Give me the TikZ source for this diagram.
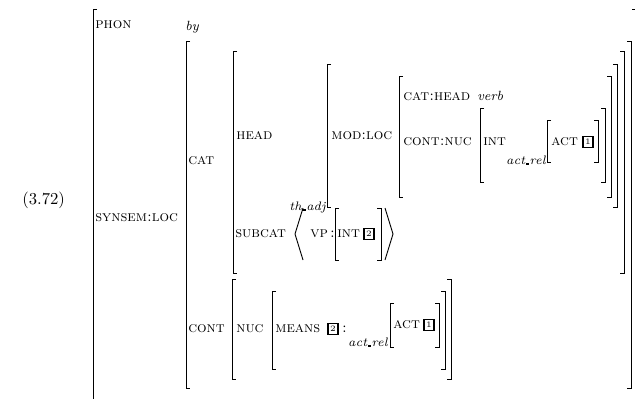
\documentclass[tikz,border=0pt]{standalone}
\newcommand{\lowbar}{\kern0.04em\rule[-0.25ex]{0.3em}{0.35ex}\kern0.02em}
\begin{document}
\begin{tikzpicture}[x=0.6pt,y=-0.6pt,
    feat/.style={anchor=west,inner sep=0pt,font=\small\scshape},
    sort/.style={anchor=base west,inner sep=0pt,font=\footnotesize\itshape},
    tag/.style={draw,line width=0.8pt,inner sep=0.5pt,minimum width=6pt,
      minimum height=6.3pt,font=\tiny},
    brack/.style={line width=0.55pt}]
  \useasboundingbox (0,0) rectangle (635,398);

    \node[anchor=west,inner sep=0pt] (num) at (22,200) {(3.72)};

    \draw[brack] (97,9)--(93,9)--(93,402)--(97,402);
    \draw[brack] (632,9)--(636,9)--(636,402)--(632,402);
    \node[feat] (phon) at (95,25) {phon};
    \node[sort] (by) at (185,30) {by};
    \node[feat] (synsem) at (95,218) {synsem:loc};

    \draw[brack] (190,41)--(186,41)--(186,388)--(190,388);
    \draw[brack] (627,41)--(631,41)--(631,388)--(627,388);
    \node[feat] (cat) at (188,161) {cat};
    \node[feat] (cont) at (188,329) {cont};

    \draw[brack] (237,51)--(233,51)--(233,273)--(237,273);
    \draw[brack] (620,51)--(624,51)--(624,273)--(620,273);
    \node[feat] (head) at (236,136) {head};
    \node[feat] (subcat) at (235,234) {subcat};

    \draw[brack] (331,64)--(327,64)--(327,207)--(331,207);
    \draw[brack] (613,64)--(617,64)--(617,207)--(613,207);
    \node[sort,anchor=base east,font=\fontsize{7.4}{9}\selectfont\itshape]
    (thadj) at (326,210) {th\lowbar adj};
    \node[feat] (modloc) at (331,136) {mod:loc};

    \draw[brack] (403,76)--(399,76)--(399,197)--(403,197);
    \draw[brack] (607,76)--(611,76)--(611,197)--(607,197);
    \node[feat] (cathead) at (403,97) {cat:head};
    \node[sort] (verb) at (477,100) {verb};
    \node[feat] (contnuc) at (403,142) {cont:nuc};

    \draw[brack] (484,108)--(480,108)--(480,182)--(484,182);
    \draw[brack] (601,108)--(605,108)--(605,182)--(601,182);
    \node[feat] (intA) at (483,142) {int};
    \node[sort,anchor=base east,font=\fontsize{7.4}{9}\selectfont\itshape]
    (relA) at (546,164) {act\lowbar rel};

    \draw[brack] (551,120)--(547,120)--(547,162)--(551,162);
    \draw[brack] (594,120)--(598,120)--(598,162)--(594,162);
    \node[feat] (actA) at (551,142) {act};
    \node[tag] (oneA) at (588,142) {1};

    \draw[brack] (303,208)--(295,234)--(303,260);
    \node[feat] (vp) at (310,234) {vp};
    \node[anchor=west,inner sep=0pt,font=\small] (colA) at (330,234) {:};
    \draw[brack] (339,208)--(335,208)--(335,260)--(339,260);
    \draw[brack] (377,208)--(381,208)--(381,260)--(377,260);
    \node[feat] (intB) at (337,234) {int};
    \node[tag] (twoA) at (369,234) {2};
    \draw[brack] (385,208)--(393,234)--(385,260);

    \draw[brack] (236,279)--(232,279)--(232,379)--(236,379);
    \draw[brack] (447,279)--(451,279)--(451,379)--(447,379);
    \node[feat] (nuc) at (236,329) {nuc};

    \draw[brack] (276,291)--(272,291)--(272,369)--(276,369);
    \draw[brack] (441,291)--(445,291)--(445,369)--(441,369);
    \node[feat] (means) at (275,329) {means};
    \node[tag] (twoB) at (333,329) {2};
    \node[anchor=west,inner sep=0pt,font=\small] (colB) at (342,329) {:};
    \node[sort,anchor=base east,font=\fontsize{7.4}{9}\selectfont\itshape]
    (relB) at (388,346) {act\lowbar rel};

    \draw[brack] (394,303)--(390,303)--(390,347)--(394,347);
    \draw[brack] (435,303)--(439,303)--(439,347)--(435,347);
    \node[feat] (actB) at (393,325) {act};
    \node[tag] (oneB) at (429,325) {1};

  \end{tikzpicture}
\end{document}
